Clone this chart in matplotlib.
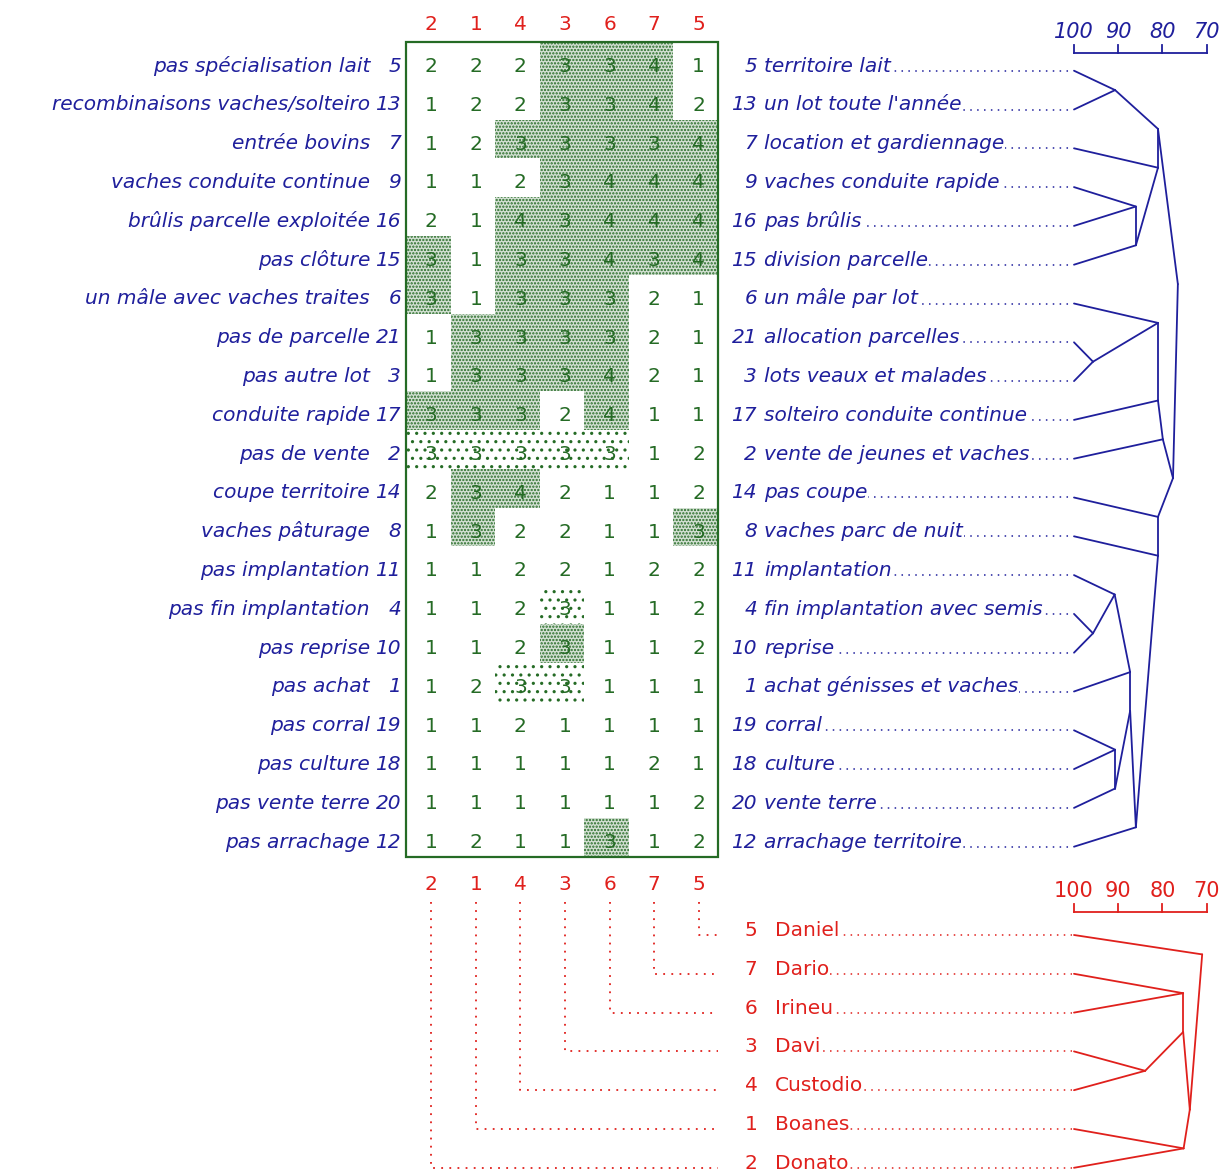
import matplotlib
matplotlib.use('Agg')
import matplotlib.pyplot as plt
from matplotlib.patches import Rectangle

# colonnes de la matrice (numéros d'éleveurs)
col_ids = [2, 1, 4, 3, 6, 7, 5]

# lignes de la matrice (numéros de variables)
row_ids = [5, 13, 7, 9, 16, 15, 6, 21, 3, 17, 2, 14, 8, 11, 4, 10, 1, 19, 18, 20, 12]

left_labels = ['pas spécialisation lait', 'recombinaisons vaches/solteiro', 'entrée bovins',
               'vaches conduite continue', 'brûlis parcelle exploitée', 'pas clôture',
               'un mâle avec vaches traites', 'pas de parcelle', 'pas autre lot',
               'conduite rapide', 'pas de vente', 'coupe territoire', 'vaches pâturage',
               'pas implantation', 'pas fin implantation', 'pas reprise', 'pas achat',
               'pas corral', 'pas culture', 'pas vente terre', 'pas arrachage']

right_labels = ['territoire lait', "un lot toute l'année", 'location et gardiennage',
                'vaches conduite rapide', 'pas brûlis', 'division parcelle', 'un mâle par lot',
                'allocation parcelles', 'lots veaux et malades', 'solteiro conduite continue',
                'vente de jeunes et vaches', 'pas coupe', 'vaches parc de nuit', 'implantation',
                'fin implantation avec semis', 'reprise', 'achat génisses et vaches', 'corral',
                'culture', 'vente terre', 'arrachage territoire']

values = [
    [2, 2, 2, 3, 3, 4, 1],
    [1, 2, 2, 3, 3, 4, 2],
    [1, 2, 3, 3, 3, 3, 4],
    [1, 1, 2, 3, 4, 4, 4],
    [2, 1, 4, 3, 4, 4, 4],
    [3, 1, 3, 3, 4, 3, 4],
    [3, 1, 3, 3, 3, 2, 1],
    [1, 3, 3, 3, 3, 2, 1],
    [1, 3, 3, 3, 4, 2, 1],
    [3, 3, 3, 2, 4, 1, 1],
    [3, 3, 3, 3, 3, 1, 2],
    [2, 3, 4, 2, 1, 1, 2],
    [1, 3, 2, 2, 1, 1, 3],
    [1, 1, 2, 2, 1, 2, 2],
    [1, 1, 2, 3, 1, 1, 2],
    [1, 1, 2, 3, 1, 1, 2],
    [1, 2, 3, 3, 1, 1, 1],
    [1, 1, 2, 1, 1, 1, 1],
    [1, 1, 1, 1, 1, 2, 1],
    [1, 1, 1, 1, 1, 1, 2],
    [1, 2, 1, 1, 3, 1, 2],
]

# 0 = pas de trame, 1 = trame dense, 2 = trame légère
marks = [
    [0, 0, 0, 1, 1, 1, 0],
    [0, 0, 0, 1, 1, 1, 0],
    [0, 0, 1, 1, 1, 1, 1],
    [0, 0, 0, 1, 1, 1, 1],
    [0, 0, 1, 1, 1, 1, 1],
    [1, 0, 1, 1, 1, 1, 1],
    [1, 0, 1, 1, 1, 0, 0],
    [0, 1, 1, 1, 1, 0, 0],
    [0, 1, 1, 1, 1, 0, 0],
    [1, 1, 1, 0, 1, 0, 0],
    [2, 2, 2, 2, 2, 0, 0],
    [0, 1, 1, 0, 0, 0, 0],
    [0, 1, 0, 0, 0, 0, 1],
    [0, 0, 0, 0, 0, 0, 0],
    [0, 0, 0, 2, 0, 0, 0],
    [0, 0, 0, 1, 0, 0, 0],
    [0, 0, 2, 2, 0, 0, 0],
    [0, 0, 0, 0, 0, 0, 0],
    [0, 0, 0, 0, 0, 0, 0],
    [0, 0, 0, 0, 0, 0, 0],
    [0, 0, 0, 0, 1, 0, 0],
]

# éleveurs dans l'ordre du dendrogramme du bas
farmer_ids = [5, 7, 6, 3, 4, 1, 2]
farmer_names = ['Daniel', 'Dario', 'Irineu', 'Davi', 'Custodio', 'Boanes', 'Donato']

# arbres : (a, b, niveau) ; feuilles 0..n-1, puis les fusions prennent n, n+1, ...
row_tree = [
    (0, 1, 90.7), (3, 4, 86.0), (22, 5, 86.0), (2, 23, 81.0), (21, 24, 81.0),
    (7, 8, 95.7), (6, 26, 81.0), (27, 9, 81.0), (28, 10, 79.9),
    (14, 15, 95.7), (13, 30, 90.8), (31, 16, 87.3), (17, 18, 90.7), (33, 19, 90.7),
    (32, 34, 87.3), (35, 20, 86.0), (12, 36, 81.0), (11, 37, 81.0),
    (29, 38, 77.6), (25, 39, 76.5),
]
col_tree = [(1, 2, 75.3), (3, 4, 83.9), (7, 8, 75.3), (5, 6, 75.2), (9, 10, 73.8), (0, 11, 71.0)]

scale_ticks = [100, 90, 80, 70]

BLUE = '#1f1f9c'
RED = '#e0201c'
GREEN = '#256b25'

# mise en page (pixels)
MAT_L, MAT_T = 406, 42
COL_W, ROW_H = 44.57, 38.8
X100, PX_UNIT = 1074, 4.42
LEAF_END = 1072
ROW_Y0 = 70.7
FARM_Y0 = 935
FS = 14.5

plt.rcParams['font.family'] = ['DejaVu Sans']
plt.rcParams['hatch.linewidth'] = 1.1


def lx(lvl):
    return X100 + (100 - lvl) * PX_UNIT


def draw_tree(ax, merges, n, y_of, color):
    pos = {i: (100, y_of(i)) for i in range(n)}
    span = {i: (i, i) for i in range(n)}
    for k, (a, b, lvl) in enumerate(merges):
        top, bot = sorted([a, b], key=lambda c: span[c][0])
        yb = (y_of(span[top][1]) + y_of(span[bot][0])) / 2
        for c in (a, b):
            ax.plot([lx(pos[c][0]), lx(lvl)], [pos[c][1], yb], color=color, lw=1.3,
                    solid_capstyle='round')
        pos[n + k] = (lvl, yb)
        span[n + k] = (span[top][0], span[bot][1])


def draw_scale(ax, y_bar, y_lab, color, style):
    ax.plot([lx(scale_ticks[0]), lx(scale_ticks[-1])], [y_bar, y_bar], color=color, lw=1.3)
    for t in scale_ticks:
        ax.plot([lx(t), lx(t)], [y_bar, y_bar - 8], color=color, lw=1.3)
        ax.text(lx(t), y_lab, str(t), color=color, fontsize=15, style=style,
                ha='center', va='center')


fig = plt.figure(figsize=(12.22, 11.72), dpi=100)
ax = fig.add_axes([0, 0, 1, 1])
ax.set_xlim(0, 1222)
ax.set_ylim(1172, 0)
ax.axis('off')

n_rows, n_cols = len(row_ids), len(col_ids)
mat_r = MAT_L + COL_W * n_cols
mat_b = MAT_T + ROW_H * n_rows

# trames
for i in range(n_rows):
    for j in range(n_cols):
        m = marks[i][j]
        if m:
            ax.add_patch(Rectangle((MAT_L + j * COL_W, MAT_T + i * ROW_H), COL_W, ROW_H,
                                   facecolor='#d3e0d3' if m == 1 else 'none',
                                   edgecolor=GREEN, lw=0,
                                   hatch='.....' if m == 1 else '..', zorder=1))
        ax.text(MAT_L + (j + 0.5) * COL_W + 3, MAT_T + (i + 0.5) * ROW_H + 5, str(values[i][j]),
                color=GREEN, fontsize=14.5, ha='center', va='center', zorder=3)

ax.add_patch(Rectangle((MAT_L, MAT_T), mat_r - MAT_L, mat_b - MAT_T, fill=False,
                       edgecolor=GREEN, lw=1.6, zorder=4))

# numéros de colonnes en haut et en bas
for j, c in enumerate(col_ids):
    xc = MAT_L + (j + 0.5) * COL_W + 3
    ax.text(xc, 24, str(c), color=RED, fontsize=14.5, ha='center', va='center')
    ax.text(xc, 884, str(c), color=RED, fontsize=14.5, ha='center', va='center')

# étiquettes des lignes
for i in range(n_rows):
    yb = ROW_Y0 + i * ROW_H
    ax.text(370, yb + 1, left_labels[i], color=BLUE, fontsize=FS, style='italic',
            ha='right', va='baseline')
    ax.text(401, yb + 1, str(row_ids[i]), color=BLUE, fontsize=FS, style='italic',
            ha='right', va='baseline')
    ax.text(757, yb + 1, str(row_ids[i]), color=BLUE, fontsize=FS, style='italic',
            ha='right', va='baseline')
    ax.text(764, yb + 1, right_labels[i], color=BLUE, fontsize=FS, style='italic',
            ha='left', va='baseline', zorder=3,
            bbox=dict(boxstyle='square,pad=0.05', fc='white', ec='none'))
    ax.plot([764, LEAF_END], [yb, yb], color=BLUE, lw=1.1, linestyle=(0, (1, 3.5)), zorder=2)

draw_tree(ax, row_tree, n_rows, lambda i: ROW_Y0 + i * ROW_H, BLUE)
draw_scale(ax, 53, 32, BLUE, 'italic')

# partie du bas : éleveurs
for k, fid in enumerate(farmer_ids):
    yb = FARM_Y0 + k * ROW_H
    j = col_ids.index(fid)
    xc = MAT_L + (j + 0.5) * COL_W + 3
    ax.plot([xc, xc, 718], [902, yb, yb], color=RED, lw=1.3, linestyle=(0, (1, 3.5)))
    ax.text(751, yb + 1, str(fid), color=RED, fontsize=FS, ha='center', va='baseline')
    ax.text(775, yb + 1, farmer_names[k], color=RED, fontsize=FS, ha='left', va='baseline',
            zorder=3, bbox=dict(boxstyle='square,pad=0.05', fc='white', ec='none'))
    ax.plot([775, LEAF_END], [yb, yb], color=RED, lw=1.1, linestyle=(0, (1, 3.5)), zorder=2)

draw_tree(ax, col_tree, len(farmer_ids), lambda k: FARM_Y0 + k * ROW_H, RED)
draw_scale(ax, 912, 891, RED, 'normal')

fig.savefig('out.png', dpi=100)
